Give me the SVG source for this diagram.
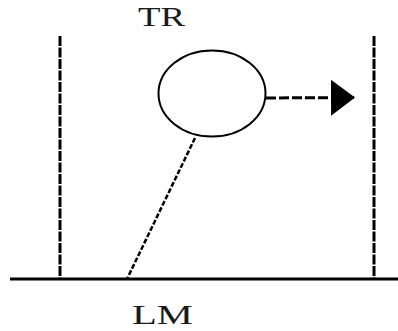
<svg xmlns="http://www.w3.org/2000/svg" width="398" height="331" viewBox="0 0 398 331">
<defs>
<style>
.lbl{font-family:"Liberation Serif","Times New Roman",serif;font-size:28px;fill:#1a1a1a}
.vd{stroke:#000;stroke-width:3;stroke-dasharray:10 1.5;fill:none}
.ground{stroke:#000;stroke-width:3;fill:none}
.conn{stroke:#000;fill:none}
</style>
<marker id="arr" markerUnits="userSpaceOnUse" markerWidth="26" markerHeight="38" refX="24" refY="18" orient="auto">
<path d="M0,0 L24,18 L0,36 Z" fill="#000"/>
</marker>
</defs>
<rect width="398" height="331" fill="#fff"/>
<g id="ground"><line class="ground" x1="10" y1="279" x2="398" y2="279"/></g>
<g id="left-boundary"><line class="vd" x1="60" y1="36" x2="60" y2="279"/></g>
<g id="right-boundary"><line class="vd" x1="374" y1="36" x2="374" y2="279"/></g>
<g id="tr-node"><ellipse cx="212" cy="93.5" rx="53.5" ry="43" fill="#fff" stroke="#000" stroke-width="2"/></g>
<g id="connectors">
<line class="conn" x1="266" y1="98" x2="355" y2="97.5" stroke-width="3" stroke-dasharray="10 3" marker-end="url(#arr)"/>
<line class="conn" x1="195" y1="138" x2="127" y2="279" stroke-width="2.5" stroke-dasharray="5 2"/>
</g>
<g id="labels">
<text class="lbl" x="138" y="26" textLength="47" lengthAdjust="spacingAndGlyphs">TR</text>
<text class="lbl" x="132" y="324" textLength="61" lengthAdjust="spacingAndGlyphs">LM</text>
</g>
</svg>
